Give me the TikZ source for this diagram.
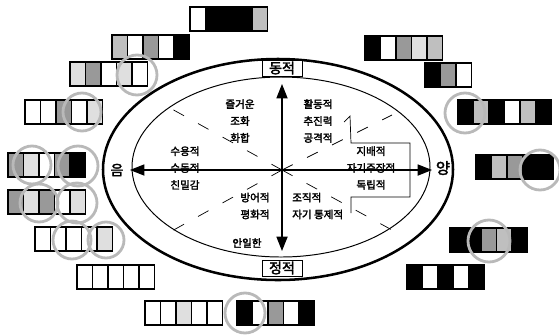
\documentclass[tikz,border=0pt]{standalone}
\usepackage{fontspec}
\newfontfamily\kr[AutoFakeBold=2.5]{Noto Sans CJK KR}
\usetikzlibrary{arrows.meta,positioning}

\colorlet{pale}{gray!25}
\colorlet{mid}{gray!50}
\colorlet{dark}{gray!80}

% one strip of colour cells, left/top corner and list of tones
\newcommand{\cellrow}[3]{%
  \foreach \tone [count=\i] in {#3}
    \draw[cell, fill=\tone] ({#1+(\i-1)*15.5},#2) rectangle ++(15.5,24);}

\begin{document}
\begin{tikzpicture}[
    x=0.25mm, y=-0.25mm,
    cell/.style={draw=black, line width=0.9pt},
    ring/.style={draw=gray!55, line width=2pt},
    rim/.style={line width=1.8pt},
    ray/.style={line width=0.5pt, dash pattern=on 3mm off 4mm},
    biarrow/.style={{Triangle[length=3.6mm,width=2.8mm]}-{Triangle[length=3.6mm,width=2.8mm]}, line width=0.8pt},
    word/.style={font=\kr\bfseries\fontsize{7.5}{12}\selectfont, align=center, inner sep=0pt},
    pole/.style={draw, fill=white, font=\kr\bfseries\fontsize{10}{12}\selectfont, minimum width=10mm, minimum height=4mm, inner sep=1pt}
]
\useasboundingbox (0,0) rectangle (559,335);

% Strips on the left
\cellrow{190}{7}{white,black,black,black,mid}
\cellrow{112}{35}{mid,white,dark,white,black}
\cellrow{70}{62}{pale,dark,white,pale,white}
\cellrow{25}{100}{white,white,dark,white,pale}
\cellrow{8}{153}{dark,pale,white,dark,black}
\cellrow{8}{190}{dark,pale,dark,white,pale}
\cellrow{35}{227}{white,white,white,white,pale}
\cellrow{77}{265}{white,white,white,white,white}
\cellrow{145}{301}{white,white,pale,white,white}
\cellrow{237}{301}{black,white,dark,white,black}

% Strips on the right
\cellrow{365}{36}{black,white,dark,pale,mid}
\cellrow{425}{63}{black,dark,white}
\cellrow{458}{100}{black,mid,black,white,mid,black}
\cellrow{476}{155}{black,mid,dark,black,black}
\cellrow{450}{228}{black,black,dark,mid,black}
\cellrow{407}{265}{black,white,black,white,black}

% Circles
\draw[ring] (137,75) circle (20);
\draw[ring] (82,112) circle (19);
\draw[ring] (32,165) circle (19);
\draw[ring] (78,166) circle (20);
\draw[ring] (39,203) circle (19);
\draw[ring] (77,203) circle (20);
\draw[ring] (72,240) circle (19);
\draw[ring] (106,240) circle (18);
\draw[ring] (245,313) circle (20);
\draw[ring] (465,113) circle (20);
\draw[ring] (540,170) circle (20);
\draw[ring] (489,241) circle (21);

% Ellipses
\draw[rim] (278,169.5) ellipse (175 and 110.5);
\draw[line width=0.7pt] (281,167) ellipse (149 and 90);

% Rays from the middle
\coordinate (hub) at (282,170);
\draw[ray] (hub) -- ++(-112,-62);
\draw[ray] (hub) -- ++(110,-55);
\draw[ray] (hub) -- ++(-112,62);
\draw[ray] (hub) -- ++(110,60);

% Bracket round the right words
\draw[line width=0.5pt] (344,122) -- (350,116) -- (351,143) -- (410,143) -- (410,197) -- (351,197) -- (351,213);

% Axes
\coordinate (west) at (130,170);
\coordinate (east) at (432,170);
\coordinate (north) at (282,84);
\coordinate (south) at (282,251);
\draw[biarrow] (west) -- (east);
\draw[biarrow] (north) -- (south);

% Poles
\node[pole] (dyn) at (282,68) {동적};
\node[pole] (sta) at (282,268) {정적};
\node[font=\kr\bfseries\fontsize{10}{12}\selectfont, inner sep=1pt] (yin) at (117,170) {음};
\node[font=\kr\bfseries\fontsize{11}{12}\selectfont, inner sep=1pt] (yang) at (443,168) {양};

% Words
\node[word] (joy) at (240,121) {즐거운\\조화\\화합};
\node[word] (act) at (318,121) {활동적\\추진력\\공격적};
\node[word] (acc) at (185,168) {수용적\\수동적\\친밀감};
\node[word] (dom) at (371,168) {지배적\\자기주장적\\독립적};
\node[word] (def) at (255,206) {방어적\\평화적};
\node[word, align=left, anchor=west] (org) at (292,206) {조직적\\자기 통제적};
\node[word] (easy) at (247,243) {안일한};

\end{tikzpicture}
\end{document}
